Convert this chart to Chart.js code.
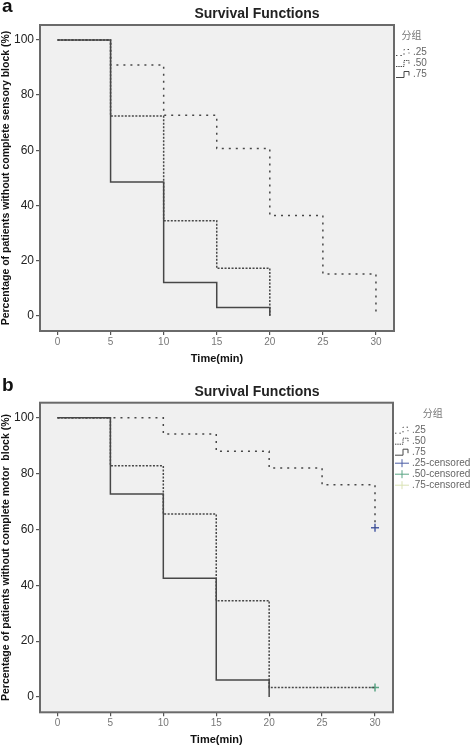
<!DOCTYPE html>
<html>
<head>
<meta charset="utf-8">
<script src="https://cdn.jsdelivr.net/npm/chart.js@4.4.1/dist/chart.umd.min.js"></script>
<style>
  html, body { margin: 0; padding: 0; background: #fff; }
  .panel { position: absolute; left: 0; width: 472px; height: 372px; }
  #panelA { top: 0; }
  #panelB { top: 376px; }
</style>
</head>
<body>
<div class="panel" id="panelA"><canvas id="chartA"></canvas></div>
<div class="panel" id="panelB"><canvas id="chartB"></canvas></div>
<script>
// time points (min) at which each curve steps
const timesFull = [0, 5, 10, 15, 20, 25, 30];
const timesTo20 = [0, 5, 10, 15, 20];

// a: sensory block, % of patients without complete block
const sensory25 = [100, 90.9, 72.7, 60.6, 36.4, 15.2, 0];
const sensory50 = [100, 72.4, 34.5, 17.2, 0];
const sensory75 = [100, 48.5, 12.1, 3.0, 0];

// b: motor block
const motor25 = [100, 100, 94.2, 88.0, 82.0, 76.0, 60.6];
const motor50 = [100, 82.8, 65.5, 34.5, 3.4, 3.4, 3.4];
const motor75 = [100, 72.7, 42.5, 6.1, 0];

// censored observations (b)
const censTimes25 = [30];
const cens25 = [60.6];
const censTimes50 = [30];
const cens50 = [3.4];

const groupLabels = [".25", ".50", ".75"];
const xTicks = [0, 5, 10, 15, 20, 25, 30];
const yTicks = [0, 20, 40, 60, 80, 100];

Chart.defaults.font.family = "'Liberation Sans', Arial, sans-serif";

const lineColor = "#474747";
const dash25 = [2, 5];
const dash50 = [2, 1.5];

function pts(times, vals) {
  return vals.map((v, i) => ({ x: times[i], y: v }));
}

function stepSet(label, times, vals, dash) {
  return {
    label: label,
    data: pts(times, vals),
    stepped: true,
    borderColor: lineColor,
    borderWidth: 1.5,
    borderDash: dash,
    pointRadius: 0,
    fill: false,
  };
}

function censSet(label, times, vals, color) {
  return {
    label: label,
    data: pts(times, vals),
    showLine: false,
    borderColor: color,
    backgroundColor: color,
    pointStyle: "cross",
    pointRadius: 4,
    pointBorderWidth: 1.5,
    censored: true,
  };
}

// plot background, frame, title, panel letter and the SPSS-like legend
const panelPlugin = {
  id: "panel",
  beforeDraw(chart) {
    const { ctx, chartArea: a } = chart;
    ctx.save();
    ctx.fillStyle = "#f0f0f0";
    ctx.fillRect(a.left, a.top, a.width, a.height);
    ctx.restore();
  },
  afterDraw(chart, args, opts) {
    const { ctx, chartArea: a } = chart;
    ctx.save();
    ctx.strokeStyle = "#6a6a6a";
    ctx.lineWidth = 2;
    ctx.strokeRect(a.left, a.top, a.width, a.height);

    ctx.fillStyle = "#111";
    ctx.font = "bold 19px 'Liberation Sans', Arial, sans-serif";
    ctx.textAlign = "left";
    ctx.textBaseline = "alphabetic";
    ctx.fillText(opts.letter, 2, opts.letterY);

    ctx.fillStyle = "#222";
    ctx.font = "bold 14px 'Liberation Sans', Arial, sans-serif";
    ctx.textAlign = "center";
    ctx.textBaseline = "middle";
    ctx.fillText("Survival Functions", (a.left + chart.width) / 2 + 1, a.top - 11);

    // legend
    const dsets = chart.data.datasets;
    const x0 = a.right + 2;
    ctx.font = "10px 'Liberation Sans', Arial, sans-serif";
    let maxW = 0;
    dsets.forEach(d => { maxW = Math.max(maxW, ctx.measureText(d.label).width); });
    const blockW = 17 + maxW;

    ctx.fillStyle = "#777";
    ctx.font = "10px 'Noto Sans CJK SC', sans-serif";
    ctx.textAlign = "center";
    ctx.fillText("分组", x0 + blockW / 2, a.top + 10.5);

    ctx.font = "10px 'Liberation Sans', Arial, sans-serif";
    ctx.textAlign = "left";
    dsets.forEach((d, i) => {
      const y = a.top + 27.5 + i * 11;
      ctx.strokeStyle = d.borderColor;
      ctx.lineWidth = 1;
      ctx.beginPath();
      if (d.censored) {
        ctx.setLineDash([]);
        ctx.moveTo(x0, y); ctx.lineTo(x0 + 14, y);
        ctx.moveTo(x0 + 7, y - 4); ctx.lineTo(x0 + 7, y + 4);
      } else {
        ctx.setLineDash(d.borderDash.length ? [d.borderDash[0] * 0.7, d.borderDash[1] * 0.6] : []);
        ctx.moveTo(x0, y + 3); ctx.lineTo(x0 + 8, y + 3);
        ctx.lineTo(x0 + 8, y - 3); ctx.lineTo(x0 + 13, y - 3);
        ctx.lineTo(x0 + 13, y + 1);
      }
      ctx.stroke();
      ctx.fillStyle = "#666";
      ctx.fillText(d.label, x0 + 17, y);
    });
    ctx.restore();
  },
};

function makeChart(id, datasets, yTitle, opt) {
  return new Chart(document.getElementById(id), {
    type: "line",
    data: { datasets: datasets },
    plugins: [panelPlugin],
    options: {
      responsive: true,
      maintainAspectRatio: false,
      animation: false,
      layout: { padding: { top: opt.top, right: opt.right, left: 0, bottom: 0 } },
      plugins: {
        legend: { display: false },
        tooltip: { enabled: false },
        title: { display: false },
        panel: { letter: opt.letter, letterY: opt.letterY },
      },
      scales: {
        x: {
          type: "linear",
          min: -1.65,
          max: 31.7,
          afterBuildTicks: axis => { axis.ticks = xTicks.map(v => ({ value: v })); },
          afterFit: s => { s.height = opt.xHeight; },
          grid: { drawOnChartArea: false, drawTicks: true, tickLength: 4, color: "#555", lineWidth: 1.2 },
          border: { display: false },
          ticks: { color: "#777", font: { size: 10 }, padding: 1, maxRotation: 0 },
          title: {
            display: true,
            text: "Time(min)",
            color: "#111",
            font: { size: 11, weight: "bold" },
            padding: { top: 0, bottom: opt.xTitlePad },
          },
        },
        y: {
          min: -5.5,
          max: 105.4,
          afterBuildTicks: axis => { axis.ticks = yTicks.map(v => ({ value: v })); },
          afterFit: s => { s.width = 40; },
          grid: { drawOnChartArea: false, drawTicks: true, tickLength: 4, color: "#555", lineWidth: 1.2 },
          border: { display: false },
          ticks: { color: "#222", font: { size: 12 }, padding: 2 },
          title: {
            display: true,
            text: yTitle,
            color: "#111",
            font: { size: 10.5, weight: "bold" },
            padding: { top: 0, bottom: 0 },
          },
        },
      },
    },
  });
}

makeChart("chartA", [
  stepSet(groupLabels[0], timesFull, sensory25, dash25),
  stepSet(groupLabels[1], timesTo20, sensory50, dash50),
  stepSet(groupLabels[2], timesTo20, sensory75, []),
], "Percentage of patients without complete sensory block (%)",
{ top: 25, right: 78, xHeight: 41, xTitlePad: 6.4, letter: "a", letterY: 12 });

makeChart("chartB", [
  stepSet(groupLabels[0], timesFull, motor25, dash25),
  stepSet(groupLabels[1], timesFull, motor50, dash50),
  stepSet(groupLabels[2], timesTo20, motor75, []),
  censSet(".25-censored", censTimes25, cens25, "#4c5ea6"),
  censSet(".50-censored", censTimes50, cens50, "#5aa585"),
  censSet(".75-censored", [], [], "#d9e2b4"),
], "Percentage of patients without complete motor  block (%)",
{ top: 26.7, right: 79, xHeight: 35.7, xTitlePad: 1.4, letter: "b", letterY: 15 });
</script>
</body>
</html>
